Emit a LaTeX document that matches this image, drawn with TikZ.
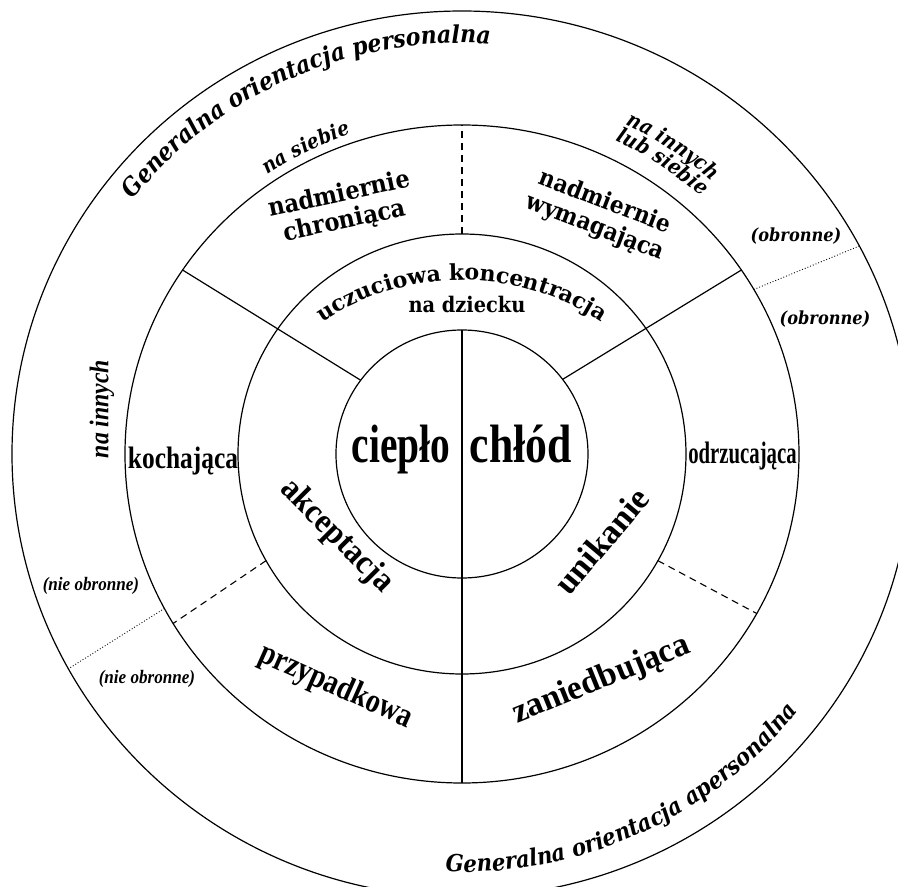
\documentclass[tikz,border=0pt]{standalone}
\usepackage{fontspec}
\usepackage{graphicx}
\setmainfont{Liberation Serif}
\newfontfamily\dvc{DejaVu Serif Condensed}
\newfontfamily\dvs{DejaVu Serif}
\usetikzlibrary{decorations.text}

\newcommand{\fsz}[2]{\fontsize{#1}{#2}\selectfont}
\newcommand{\sq}[1]{\scalebox{0.9}[1]{#1}}
\newcommand{\orfont}{\dvc\bfseries\itshape\fsz{24.5}{24.5}}
\newcommand{\aporfont}{\dvc\bfseries\itshape\fsz{23.5}{23.5}}
\newcommand{\selffont}{\dvc\bfseries\itshape\fsz{20.5}{20.5}}
\newcommand{\bothfont}{\dvc\bfseries\itshape\fsz{21}{21}}
\newcommand{\focusfont}{\dvs\bfseries\fsz{22}{22}}

\begin{document}
\begin{tikzpicture}[
      x=1pt, y=1pt,
      ring/.style={draw, line width=1.2pt},
      cut/.style={line width=1.2pt},
      dashcut/.style={line width=1.1pt, dash pattern=on 7pt off 5pt},
      dotcut/.style={line width=0.9pt, dash pattern=on 0.9pt off 2pt},
      heavy/.style={font=\dvs\bfseries\fsz{25}{27}, align=center, inner sep=0pt},
      cond/.style={font=\bfseries\fsz{31}{31}, inner sep=0pt},
      big/.style={font=\bfseries\fsz{34}{34}, inner sep=0pt},
      tag/.style={font=\dvc\bfseries\itshape\fsz{18}{18}, inner sep=0pt},
      ntag/.style={font=\bfseries\itshape\fsz{19}{19}, inner sep=0pt}
    ]
    \useasboundingbox (-462,-433) rectangle (436,454);
    \clip (-462,-433) rectangle (436,454);

    % the rings
    \draw[ring] (0,0) ellipse [x radius=126, y radius=124];
    \draw[ring] (0,0) ellipse [x radius=224, y radius=220];
    \draw[ring] (0,0) ellipse [x radius=337, y radius=329];
    \draw[ring] (0,0) ellipse [x radius=450, y radius=443];

    % the cuts
    \coordinate (w1) at (90:126 and 124);
    \coordinate (w2) at (270:337 and 329);
    \coordinate (t1) at (90:224 and 220);
    \coordinate (t2) at (90:337 and 329);
    \coordinate (l1) at (143.5:126 and 124);
    \coordinate (l2) at (146:337 and 329);
    \coordinate (r1) at (37:126 and 124);
    \coordinate (r2) at (34:337 and 329);
    \coordinate (ll1) at (209:224 and 220);
    \coordinate (ll2) at (211:337 and 329);
    \coordinate (lr1) at (-29:224 and 220);
    \coordinate (lr2) at (-29:337 and 329);
    \coordinate (ld1) at (208:337 and 329);
    \coordinate (ld2) at (209:450 and 443);
    \coordinate (ud1) at (30:337 and 329);
    \coordinate (ud2) at (28:450 and 443);

    \draw[cut] (w1) -- (w2);
    \draw[cut] (l1) -- (l2);
    \draw[cut] (r1) -- (r2);
    \draw[dashcut] (t1) -- (t2);
    \draw[dashcut] (ll1) -- (ll2);
    \draw[dashcut] (lr1) -- (lr2);
    \draw[dotcut] (ld1) -- (ld2);
    \draw[dotcut] (ud1) -- (ud2);

    % the centre
    \node[big, font=\bfseries\fsz{54}{54}, anchor=base] (warm) at (-61,-8) {\scalebox{0.73}[1]{ciepło}};
    \node[big, font=\bfseries\fsz{54}{54}, anchor=base] (cold) at (59,-8) {\scalebox{0.81}[1]{chłód}};

    % second ring
    \node[big, rotate=-45] (accept) at (-125.5,-82.5) {\scalebox{0.93}[1]{akceptacja}};
    \node[big, rotate=50] (avoid) at (139.5,-87) {unikanie};
    \begin{scope}[shift={(0,-77)}]
      \path[decorate, decoration={text along path, text align=center,
        text={|\focusfont|uczuciowa koncentracja}}]
        (135:251) arc[start angle=135, end angle=45, radius=251];
    \end{scope}
    \node[heavy, font=\dvs\bfseries\fsz{21.5}{24}, anchor=base] (child) at (5,142) {\sq{na dziecku}};

    % third ring
    \node[cond, anchor=base] (love) at (-279,-14) {\scalebox{0.82}[1]{kochająca}};
    \node[cond, anchor=base] (reject) at (280.5,-9) {\scalebox{0.67}[1]{odrzucająca}};
    \node[big, rotate=-24] (casual) at (-126,-233) {\scalebox{0.83}[1]{przypadkowa}};
    \node[big, rotate=22] (neglect) at (139.5,-226.5) {\scalebox{0.98}[1]{zaniedbująca}};
    \node[heavy, rotate=12] (protect) at (-120,246) {\sq{nadmiernie}\\\sq{chroniąca}};
    \node[heavy, font=\dvs\bfseries\fsz{24}{27}, rotate=-21] (demand) at (138,239) {\sq{nadmiernie}\\\sq{wymagająca}};

    % outer ring
    \path[decorate, decoration={text along path, text align=center,
      text={|\orfont|Generalna orientacja personalna}}]
      (150:419 and 411) arc[start angle=150, end angle=78, x radius=419, y radius=411];
    \path[decorate, decoration={text along path, text align=center,
      text={|\aporfont|Generalna orientacja apersonalna}}]
      (-100:426 and 418) arc[start angle=-100, end angle=-30, x radius=426, y radius=418];
    \path[decorate, decoration={text along path, text align=center,
      text={|\selffont|na siebie}}]
      (130:346 and 338) arc[start angle=130, end angle=103, x radius=346, y radius=338];
    \path[decorate, decoration={text along path, text align=center,
      text={|\bothfont|na innych}}]
      (72:374 and 367) arc[start angle=72, end angle=40, x radius=374, y radius=367];
    \path[decorate, decoration={text along path, text align=center,
      text={|\bothfont|lub siebie}}]
      (72:355 and 348) arc[start angle=72, end angle=40, x radius=355, y radius=348];
    \node[ntag, font=\bfseries\itshape\fsz{27}{27}, rotate=90] (others) at (-360,45) {\scalebox{0.88}[1]{na innych}};
    \node[tag] (def1) at (334,218) {(obronne)};
    \node[tag] (def2) at (363,135) {(obronne)};
    \node[ntag] (ndef1) at (-371,-132) {\scalebox{0.9}[1]{(nie obronne)}};
    \node[ntag] (ndef2) at (-315,-225) {\scalebox{0.9}[1]{(nie obronne)}};
\end{tikzpicture}
\end{document}
